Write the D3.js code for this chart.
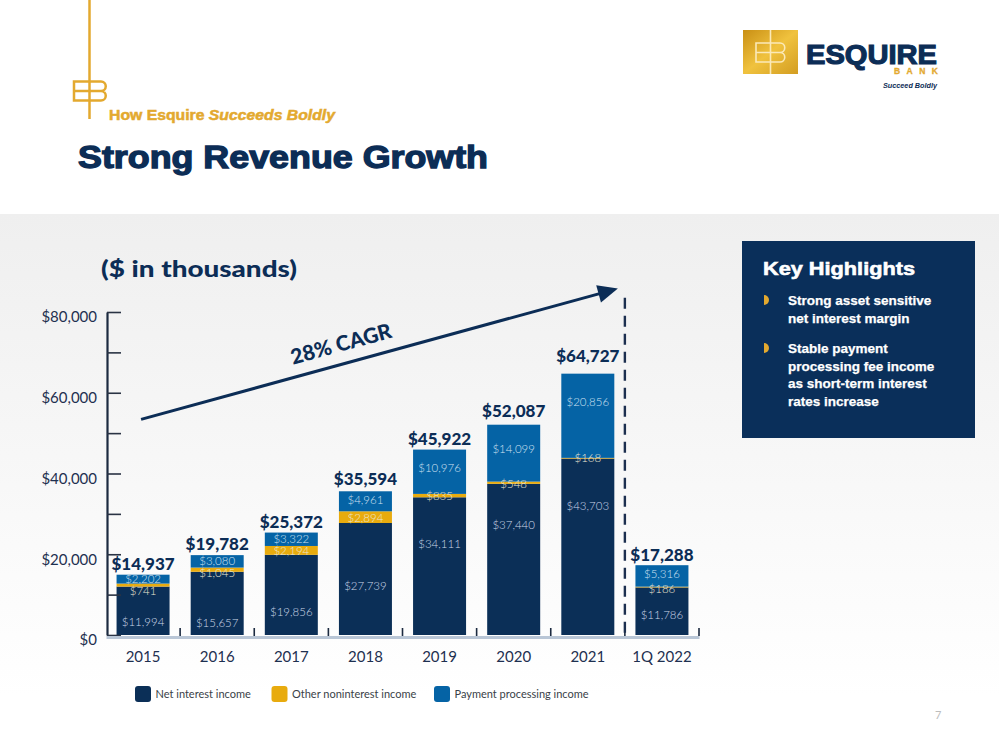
<!DOCTYPE html>
<html><head><meta charset="utf-8">
<script src="https://cdn.jsdelivr.net/npm/d3@7"></script>
<style>body{margin:0;background:#fff;} svg{display:block}</style>
</head><body><svg id="c" width="999" height="750"></svg>
<script>
// ---------- DATA ----------
const categories = ["2015","2016","2017","2018","2019","2020","2021","1Q 2022"];
const netInterestIncome = [11994,15657,19856,27739,34111,37440,43703,11786];
const otherNoninterestIncome = [741,1045,2194,2894,835,548,168,186];
const paymentProcessingIncome = [2202,3080,3322,4961,10976,14099,20856,5316];
const totals = [14937,19782,25372,35594,45922,52087,64727,17288];
const yTickLabels = [0,20000,40000,60000,80000];
const seriesNames = ["Net interest income","Other noninterest income","Payment processing income"];
const highlights = [["Strong asset sensitive","net interest margin"],
                    ["Stable payment","processing fee income","as short-term interest","rates increase"]];

// ---------- LAYOUT (label placement within segments) ----------
const netLabelFrac=[0.26,0.195,0.29,0.44,0.66,0.73,0.73,0.42];
const otherLabelDy=[6,3,0.5,1,0,1.5,0,2];
const payLabelFrac=[0.5,0.5,0.5,0.55,0.58,0.565,0.66,0.59];
const totalGap=[4.5,5,5,6,5,7.5,12,4.5];

const W=999,H=750;
const NAVY="#0c2d56", GOLD="#e3a92f";
const svg=d3.select("#c");
const defs=svg.append("defs");
const bg=defs.append("linearGradient").attr("id","bg").attr("x1",0).attr("y1",0).attr("x2",0).attr("y2",1);
bg.append("stop").attr("offset","0%").attr("stop-color","#efefef");
bg.append("stop").attr("offset","90%").attr("stop-color","#ffffff");
const gl=defs.append("linearGradient").attr("id","goldg").attr("x1",0).attr("y1",0).attr("x2",1).attr("y2",1);
gl.append("stop").attr("offset","0%").attr("stop-color","#c98f14");
gl.append("stop").attr("offset","50%").attr("stop-color","#f0c23e");
gl.append("stop").attr("offset","100%").attr("stop-color","#d39d22");

svg.append("rect").attr("width",W).attr("height",H).attr("fill","#fff");
svg.append("rect").attr("y",214).attr("width",W).attr("height",H-214).attr("fill","url(#bg)");

// ---------- HEADER ----------
svg.append("line").attr("x1",89.5).attr("x2",89.5).attr("y1",0).attr("y2",119).attr("stroke",GOLD).attr("stroke-width",2.5);
svg.append("path").attr("d","M89.5,81.5 H74 V100.5 H89.5 M74,91 H89.5 M89.5,81.5 H101 A4.75,4.75 0 0 1 101,91 H89.5 M101,91 A4.75,4.75 0 0 1 101,100.5 H89.5")
  .attr("fill","none").attr("stroke",GOLD).attr("stroke-width",2.5);
const sub=svg.append("text").attr("x",109).attr("y",119.5).attr("fill",GOLD)
  .attr("stroke",GOLD).attr("stroke-width",0.5)
  .attr("font-family","Liberation Sans, Arial, sans-serif").attr("font-weight","bold").attr("font-size",14)
  .attr("textLength",226).attr("lengthAdjust","spacingAndGlyphs");
sub.append("tspan").text("How Esquire ");
sub.append("tspan").attr("font-style","italic").text("Succeeds Boldly");
svg.append("text").attr("x",78).attr("y",168).attr("fill",NAVY).attr("stroke",NAVY).attr("stroke-width",1.3)
  .attr("font-family","Liberation Sans, Arial, sans-serif").attr("font-weight","bold").attr("font-size",31)
  .attr("textLength",410).attr("lengthAdjust","spacingAndGlyphs").text("Strong Revenue Growth");

// logo right
svg.append("rect").attr("x",743).attr("y",30).attr("width",55).attr("height",44).attr("fill","url(#goldg)");
svg.append("path").attr("d","M770.5,30 V74 M770.5,43 H756 V62 H770.5 M756,52.5 H770.5 M770.5,43 H780 A4.75,4.75 0 0 1 780,52.5 H770.5 M780,52.5 A4.75,4.75 0 0 1 780,62 H770.5")
  .attr("fill","none").attr("stroke","#fbe9b8").attr("stroke-width",1.6);
svg.append("text").attr("x",806).attr("y",63.5).attr("fill",NAVY).attr("stroke",NAVY).attr("stroke-width",1.2)
  .attr("font-family","Liberation Sans, Arial, sans-serif").attr("font-weight","bold").attr("font-size",28)
  .attr("textLength",131).attr("lengthAdjust","spacingAndGlyphs").text("ESQUIRE");
svg.append("text").attr("x",894).attr("y",74).attr("fill",GOLD).attr("stroke",GOLD).attr("stroke-width",0.3)
  .attr("font-family","Liberation Sans, Arial, sans-serif").attr("font-weight","bold").attr("font-size",8.5)
  .attr("textLength",44).attr("lengthAdjust","spacing").text("BANK");
svg.append("text").attr("x",883).attr("y",88).attr("fill",NAVY)
  .attr("font-family","Liberation Sans, Arial, sans-serif").attr("font-weight","bold").attr("font-style","italic").attr("font-size",8)
  .attr("textLength",54).attr("lengthAdjust","spacingAndGlyphs").text("Succeed Boldly");

// ---------- CHART ----------
const x=d3.scaleBand().domain(categories).range([106,699]).paddingInner(0.285).paddingOuter(0.1425);
const y=d3.scaleLinear().domain([0,80000]).range([635,312]);
const fmt=d3.format("$,");

svg.append("text").attr("x",101).attr("y",277).attr("fill",NAVY)
  .attr("font-family","Lato, sans-serif").attr("font-weight",900).attr("font-size",23)
  .attr("textLength",196).attr("lengthAdjust","spacingAndGlyphs").text("($ in thousands)");

const rows=categories.map((c,i)=>({cat:c,i:i,net:netInterestIncome[i],other:otherNoninterestIncome[i],pay:paymentProcessingIncome[i]}));
const keys=["net","other","pay"];
const colors={net:"#0b2f57",other:"#e8ab0e",pay:"#0563a5"};
const stacked=d3.stack().keys(keys)(rows);

const gBars=svg.append("g");
stacked.forEach(s=>{
  gBars.append("g").selectAll("rect").data(s).join("rect")
    .attr("x",d=>x(d.data.cat)).attr("width",x.bandwidth())
    .attr("y",d=>y(d[1])).attr("height",d=>y(d[0])-y(d[1])).attr("fill",colors[s.key]);
});

// segment labels
function segLabels(s,posFn,fill){
  svg.append("g").selectAll("text").data(s).join("text")
    .attr("x",d=>x(d.data.cat)+x.bandwidth()/2).attr("y",posFn)
    .attr("dy","0.35em").attr("text-anchor","middle")
    .attr("font-family","Lato, sans-serif").attr("font-weight",300).attr("font-size",11.5)
    .attr("fill",fill).text(d=>fmt(d.data[s.key]));
}
segLabels(stacked[0],d=>y(d[0]+netLabelFrac[d.data.i]*(d[1]-d[0])),"#cbd7e8");
segLabels(stacked[1],d=>y((d[0]+d[1])/2)+otherLabelDy[d.data.i],"#ece6d2");
segLabels(stacked[2],d=>y(d[0]+payLabelFrac[d.data.i]*(d[1]-d[0])),"#cfe0f1");

// totals
svg.append("g").selectAll("text").data(rows).join("text")
  .attr("x",d=>x(d.cat)+x.bandwidth()/2).attr("y",d=>y(totals[d.i])-totalGap[d.i])
  .attr("text-anchor","middle").attr("font-family","Lato, sans-serif").attr("font-weight",900)
  .attr("font-size",17).attr("fill",NAVY).text(d=>fmt(totals[d.i]));

// y axis (line + inner ticks)
const yAx=svg.append("g").attr("transform","translate(107,0)")
  .call(d3.axisRight(y).tickValues(d3.range(0,80001,10000)).tickSize(14).tickSizeOuter(0).tickFormat(""));
yAx.select(".domain").attr("stroke","#1c2a40").attr("stroke-width",2.2);
yAx.selectAll(".tick line").attr("stroke","#2a3344").attr("stroke-width",1.6);
// y labels
const yLab=svg.append("g").attr("transform","translate(97,0)")
  .call(d3.axisLeft(y).tickValues(yTickLabels).tickSize(0).tickPadding(0).tickFormat(fmt));
yLab.select(".domain").remove();
yLab.selectAll("text").attr("dy","0.65em").attr("font-family","Lato, sans-serif").attr("font-size",15).attr("fill","#1e3050");

// x axis
const xAx=svg.append("g").attr("transform","translate(0,637)")
  .call(d3.axisBottom(x).tickSize(0).tickSizeOuter(0).tickPadding(14));
xAx.select(".domain").attr("stroke","#b9c6d6").attr("stroke-width",3);
xAx.selectAll("text").attr("font-family","Lato, sans-serif").attr("font-size",15).attr("fill","#1e3050");
// boundary ticks
const bounds=categories.map(c=>x(c)+x.bandwidth()+x.step()*x.paddingInner()/2);
svg.append("g").selectAll("line").data(bounds).join("line")
  .attr("x1",d=>d).attr("x2",d=>d).attr("y1",636).attr("y2",628)
  .attr("stroke","#1c2a40").attr("stroke-width",1.6);

// dashed separator
const sepX=x("1Q 2022")-x.step()*x.paddingInner()/2;
svg.append("line").attr("x1",sepX).attr("x2",sepX).attr("y1",y(83500)).attr("y2",y(0))
  .attr("stroke","#1c2f4f").attr("stroke-width",2.4).attr("stroke-dasharray","11,7");

// CAGR arrow
const ax0=x("2015")+x.bandwidth()/2-2, ay0=y(53400);
const ax1=sepX-7, ay1=y(85800);
const ang=Math.atan2(ay1-ay0,ax1-ax0);
const hl=20, hw=9;
const bx=ax1-hl*Math.cos(ang), by=ay1-hl*Math.sin(ang);
svg.append("line").attr("x1",ax0).attr("y1",ay0).attr("x2",bx+2*Math.cos(ang)).attr("y2",by+2*Math.sin(ang))
  .attr("stroke",NAVY).attr("stroke-width",3);
svg.append("path").attr("d",`M${ax1},${ay1} L${bx-hw*Math.sin(ang)},${by+hw*Math.cos(ang)} L${bx+hw*Math.sin(ang)},${by-hw*Math.cos(ang)} Z`)
  .attr("fill",NAVY);
const deg=ang*180/Math.PI;
svg.append("text").attr("transform",`translate(343,351) rotate(${deg})`).attr("text-anchor","middle")
  .attr("font-family","Lato, sans-serif").attr("font-weight",900).attr("font-size",21).attr("fill",NAVY).text("28% CAGR");

// legend
const lg=svg.append("g").selectAll("g").data(seriesNames).join("g")
  .attr("transform",(d,i)=>`translate(${[135,271.5,434][i]},686)`);
lg.append("rect").attr("width",16).attr("height",16).attr("rx",3).attr("fill",(d,i)=>colors[keys[i]]);
lg.append("text").attr("x",20.5).attr("y",8).attr("dy","0.35em").attr("font-family","Lato, sans-serif")
  .attr("font-size",11).attr("fill","#3a3f48").text(d=>d);

// key highlights box
svg.append("rect").attr("x",742).attr("y",241).attr("width",233).attr("height",197).attr("fill","#0a2f5a");
svg.append("text").attr("x",763).attr("y",275).attr("fill","#fff").attr("stroke","#fff").attr("stroke-width",0.6)
  .attr("font-family","Liberation Sans, Arial, sans-serif").attr("font-weight","bold").attr("font-size",19)
  .attr("textLength",152).attr("lengthAdjust","spacingAndGlyphs").text("Key Highlights");
let ly=[305,353];
highlights.forEach((lines,bi)=>{
  svg.append("path").attr("d",`M764,${ly[bi]-10} a5,5 0 0 1 0,10 Z`).attr("fill",GOLD);
  svg.append("g").selectAll("text").data(lines).join("text")
    .attr("x",788).attr("y",(d,i)=>ly[bi]+i*17.6).attr("fill","#fff").attr("stroke","#fff").attr("stroke-width",0.25)
    .attr("font-family","Liberation Sans, Arial, sans-serif").attr("font-weight","bold").attr("font-size",13.5).text(d=>d);
});

// page number
svg.append("text").attr("x",935).attr("y",719).attr("fill","#bdbdbd").attr("font-family","Lato, sans-serif").attr("font-size",11).text("7");
</script></body></html>
